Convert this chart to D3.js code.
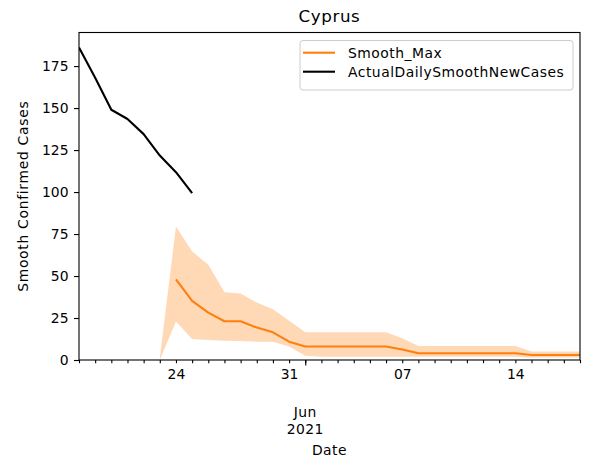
<!DOCTYPE html>
<html>
<head>
<meta charset="utf-8">
<script src="https://cdn.jsdelivr.net/npm/d3@7"></script>
<style>
  html, body { margin: 0; padding: 0; background: #fff; }
  svg { display: block; font-family: "DejaVu Sans", sans-serif; }
</style>
</head>
<body>
<svg id="chart" width="602" height="474"></svg>
<script>
// ---- data ----
const title = "Cyprus";
const xLabel = "Date";
const yLabel = "Smooth Confirmed Cases";
const seriesNames = ["Smooth_Max", "ActualDailySmoothNewCases"];

const actualDates = ["2021-05-18","2021-05-19","2021-05-20","2021-05-21","2021-05-22","2021-05-23","2021-05-24","2021-05-25"];
const actualValues = [186, 168, 149, 143.5, 134.5, 121.7, 111.8, 99.3];

const smoothDates = ["2021-05-24","2021-05-25","2021-05-26","2021-05-27","2021-05-28","2021-05-29","2021-05-30","2021-05-31",
  "2021-06-01","2021-06-02","2021-06-03","2021-06-04","2021-06-05","2021-06-06","2021-06-07","2021-06-08","2021-06-09",
  "2021-06-10","2021-06-11","2021-06-12","2021-06-13","2021-06-14","2021-06-15","2021-06-16","2021-06-17","2021-06-18"];
const smoothMax = [48, 35.2, 28.2, 23.1, 23.1, 19.3, 16.5, 10.9,
  8, 8, 8, 8, 8, 8, 6.2, 4, 4, 4, 4, 4, 4, 4, 3, 3, 3, 3];

const bandDates = ["2021-05-23"].concat(smoothDates);
const bandUpper = [1, 79.5, 64.6, 56.7, 40.4, 39.6, 34.2, 30.2, 23.3,
  16.5, 16.5, 16.5, 16.5, 16.5, 16.5, 12.9, 8.4, 8.4, 8.4, 8.4, 8.4, 8.4, 8.4, 5, 5, 5, 5];
const bandLower = [0, 22.9, 12.5, 11.9, 11.5, 11.3, 10.9, 10.9, 8,
  2.5, 2, 2, 2, 2, 2, 2, 2, 2, 2, 2, 2, 2, 2, 1.5, 1.5, 1.5, 1.5];

const xStart = "2021-05-18", xEnd = "2021-06-18";
const yTicks = [0, 25, 50, 75, 100, 125, 150, 175];
const yMax = 195;
const labeledDays = ["2021-05-24", "2021-05-31", "2021-06-07", "2021-06-14"];
const majorTick = "2021-06-01";
const majorLabel = ["Jun", "2021"];

// ---- layout ----
const parse = d3.timeParse("%Y-%m-%d");
const L = 79, R = 580, T = 32.5, B = 360;
const svg = d3.select("#chart");
const FS = 13.9;

const x = d3.scaleTime().domain([parse(xStart), parse(xEnd)]).range([L, R]);
const y = d3.scaleLinear().domain([0, yMax]).range([B, T]);

svg.append("defs").append("clipPath").attr("id", "clip")
  .append("rect").attr("x", L).attr("y", T).attr("width", R - L).attr("height", B - T);

const plot = svg.append("g").attr("clip-path", "url(#clip)");

// band
const band = bandDates.map((d, i) => ({ d: parse(d), lo: bandLower[i], hi: bandUpper[i] }));
plot.append("path").datum(band)
  .attr("d", d3.area().x(p => x(p.d)).y0(p => y(p.lo)).y1(p => y(p.hi)))
  .attr("fill", "#ff7f0e").attr("fill-opacity", 0.3).attr("stroke", "none");

// smooth max line
const sm = smoothDates.map((d, i) => ({ d: parse(d), v: smoothMax[i] }));
const line = d3.line().x(p => x(p.d)).y(p => y(p.v));
plot.append("path").datum(sm).attr("d", line)
  .attr("fill", "none").attr("stroke", "#ff7f0e").attr("stroke-width", 2.1)
  .attr("stroke-linejoin", "round");

// actual line
const act = actualDates.map((d, i) => ({ d: parse(d), v: actualValues[i] }));
plot.append("path").datum(act).attr("d", line)
  .attr("fill", "none").attr("stroke", "#000").attr("stroke-width", 2.1)
  .attr("stroke-linejoin", "round");

// axes
const days = d3.timeDay.range(parse(xStart), d3.timeDay.offset(parse(xEnd), 1));
const labeledSet = new Set(labeledDays);
const fmtKey = d3.timeFormat("%Y-%m-%d");
const xAxis = d3.axisBottom(x).tickValues(days).tickSize(3.2).tickSizeOuter(0).tickPadding(5.5)
  .tickFormat(d => labeledSet.has(fmtKey(d)) ? d3.timeFormat("%d")(d) : "");
const gx = svg.append("g").attr("transform", `translate(0,${B})`).call(xAxis);
gx.select(".domain").remove();

const gxm = svg.append("g").attr("transform", `translate(0,${B})`)
  .call(d3.axisBottom(x).tickValues([parse(majorTick)]).tickSize(5.5).tickSizeOuter(0).tickFormat(""));
gxm.select(".domain").remove();

const yAxis = d3.axisLeft(y).tickValues(yTicks).tickSize(5).tickSizeOuter(0).tickPadding(5.5);
const gy = svg.append("g").attr("transform", `translate(${L},0)`).call(yAxis);
gy.select(".domain").remove();

[gx, gxm, gy].forEach(g => {
  g.selectAll("line").attr("stroke", "#000").attr("stroke-width", 1.1);
  g.selectAll("text").attr("fill", "#000").style("font-size", FS + "px").style("font-family", "DejaVu Sans");
});

// major label
const ml = svg.append("text").attr("x", x(parse(majorTick))).attr("text-anchor", "middle")
  .style("font-size", FS + "px").style("letter-spacing", "0.4px").attr("fill", "#000");
ml.selectAll("tspan").data(majorLabel).join("tspan")
  .attr("x", x(parse(majorTick))).attr("y", (d, i) => 417 + i * 16.8).text(d => d);

// frame
svg.append("rect").attr("x", L).attr("y", T).attr("width", R - L).attr("height", B - T)
  .attr("fill", "none").attr("stroke", "#000").attr("stroke-width", 1.1);

// labels
svg.append("text").attr("x", (L + R) / 2).attr("y", 455).attr("text-anchor", "middle")
  .style("font-size", FS + "px").style("letter-spacing", "0.5px").text(xLabel);
svg.append("text").attr("transform", `translate(28.3,${(T + B) / 2}) rotate(-90)`)
  .attr("text-anchor", "middle").style("font-size", FS + "px").style("letter-spacing", "0.7px").text(yLabel);
svg.append("text").attr("x", (L + R) / 2).attr("y", 22).attr("text-anchor", "middle")
  .style("font-size", "16.7px").style("letter-spacing", "0.6px").text(title);

// legend
const lg = svg.append("g");
lg.append("rect").attr("x", 300).attr("y", 40.5).attr("width", 273).attr("height", 49.5)
  .attr("rx", 3).attr("fill", "#fff").attr("fill-opacity", 0.8).attr("stroke", "#cccccc").attr("stroke-width", 1);
const legendColors = ["#ff7f0e", "#000"];
seriesNames.forEach((n, i) => {
  const yy = 52.7 + i * 19;
  lg.append("line").attr("x1", 303).attr("x2", 335).attr("y1", yy).attr("y2", yy)
    .attr("stroke", legendColors[i]).attr("stroke-width", 2.1);
  lg.append("text").attr("x", 348).attr("y", yy).attr("dy", "0.36em")
    .style("font-size", FS + "px").style("letter-spacing", "0.5px").text(n);
});
</script>
</body>
</html>
